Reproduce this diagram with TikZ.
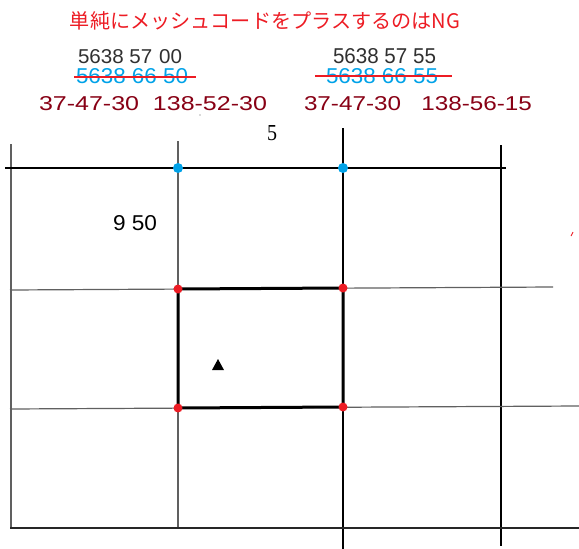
\documentclass[tikz,border=0pt]{standalone}
\usepackage{fontspec}
\usepackage{graphicx}
\setmainfont{Liberation Sans}
\newfontfamily\jpfont{Noto Sans CJK JP}
\newfontfamily\seriffont{Liberation Serif}
\definecolor{mpred}{HTML}{ED1C24}
\definecolor{mpblue}{HTML}{00A2E8}
\definecolor{mpdark}{HTML}{880015}
\definecolor{gridgray}{HTML}{606060}
\definecolor{txtgray}{HTML}{303030}
\newcommand{\fitbox}[3]{\resizebox{#1pt}{#2pt}{#3}}
\begin{document}
\begin{tikzpicture}[x=1pt,y=-1pt,
  txt/.style={inner sep=0pt, outer sep=0pt, anchor=south west},
  gline/.style={draw=gridgray, line width=1.2pt},
  bline/.style={draw=black, line width=1.2pt},
  strike/.style={draw=mpred, line width=1.2pt},
  thick box/.style={draw=black, line width=3pt, line join=miter},
  rdot/.style={circle, fill=mpred, inner sep=0pt, minimum size=9pt},
  bdot/.style={circle, fill=mpblue, inner sep=0pt, minimum size=10pt}]
\useasboundingbox (0,0) rectangle (579,549);
\fill[white] (0,0) rectangle (579,549);

% title
\node[inner sep=0pt, anchor=center, text=mpred] (title) at (265,21)
  {\resizebox{390pt}{!}{\jpfont 単純にメッシュコードをプラスするのはNG}};

% left code block
\node[txt, text=txtgray] (lc1) at (78,64) {\fitbox{104}{14}{5638 57\,\,00}};
\node[txt, text=mpblue] (lc2) at (76,84) {\fitbox{112}{15}{5638 66 50}};
\node[txt, text=mpdark] (lc3) at (39,111) {\fitbox{228}{14}{37-47-30\ \ 138-52-30}};
\coordinate (ls1) at (74,77);
\coordinate (ls2) at (196,77);
\draw[strike] (ls1) -- (ls2);
\coordinate (speck) at (200,115);
\fill[gridgray] (speck) circle (0.7pt);

% right code block
\node[txt, text=txtgray] (rc1) at (333,64) {\fitbox{103}{15}{5638 57 55}};
\node[txt, text=mpblue] (rc2) at (326,84) {\fitbox{112}{15}{5638 66 55}};
\node[txt, text=mpdark] (rc3) at (304,111) {\fitbox{228}{14}{37-47-30\ \ \ 138-56-15}};
\coordinate (rs1) at (315,76);
\coordinate (rs2) at (452,76);
\draw[strike] (rs1) -- (rs2);

% labels
\node[txt] (five) at (267,141) {\fitbox{10}{15}{\seriffont 5}};
\node[txt] (ninefifty) at (113,231) {\fitbox{44}{15}{9 50}};

% grid coordinates
\coordinate (h1a) at (5,168);   \coordinate (h1b) at (506,168);
\coordinate (h2a) at (10,290);  \coordinate (h2b) at (553,287);
\coordinate (h3a) at (10,409);  \coordinate (h3b) at (579,406);
\coordinate (h4a) at (10,528);  \coordinate (h4b) at (579,528);
\coordinate (v1a) at (11,144);  \coordinate (v1b) at (11,528);
\coordinate (v2a) at (178,141); \coordinate (v2b) at (178,528);
\coordinate (v3a) at (343,128); \coordinate (v3b) at (343,549);
\coordinate (v4a) at (501,145); \coordinate (v4b) at (501,546);

\draw[gline] (v1a) -- (v1b);
\draw[gline] (v2a) -- (v2b);
\draw[bline] (v3a) -- (v3b);
\draw[bline] (v4a) -- (v4b);
\draw[bline] (h1a) -- (h1b);
\draw[gline] (h2a) -- (h2b);
\draw[gline] (h3a) -- (h3b);
\draw[draw=black!85, line width=1.2pt] (h4a) -- (h4b);

% thick rectangle
\coordinate (ca) at (178,289);
\coordinate (cb) at (343,288);
\coordinate (cc) at (343,407);
\coordinate (cd) at (178,408);
\draw[thick box] (ca) -- (cb) -- (cc) -- (cd) -- cycle;

% triangle mark
\coordinate (t1) at (212,370);
\coordinate (t2) at (224,370);
\coordinate (t3) at (218,359);
\fill[black] (t1) -- (t2) -- (t3) -- cycle;

% dots
\node[rdot] (da) at (ca) {};
\node[rdot] (db) at (cb) {};
\node[rdot] (dc) at (cc) {};
\node[rdot] (dd) at (cd) {};
\node[bdot] (b1) at (178,168) {};
\node[bdot] (b2) at (343,168) {};

% small red tick
\coordinate (tk1) at (571,236);
\coordinate (tk2) at (573,232);
\draw[draw=mpred, line width=0.9pt] (tk1) -- (tk2);
\end{tikzpicture}
\end{document}
